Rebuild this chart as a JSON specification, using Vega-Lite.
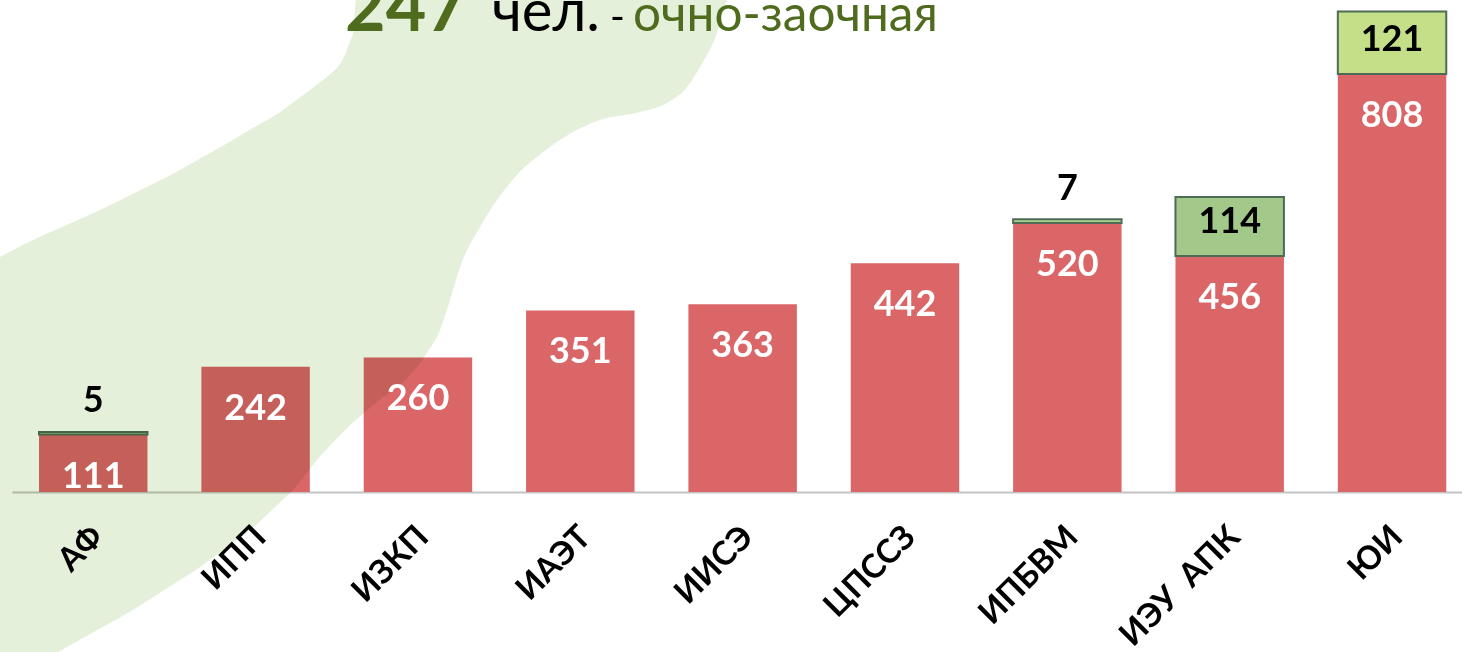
{
  "$schema": "https://vega.github.io/schema/vega-lite/v6.json",
  "autosize": {"type": "none"},
  "padding": {"left": 12, "top": 0, "right": 0, "bottom": 160},
  "width": 1450,
  "height": 492,
  "background": "white",
  "config": {"view": {"stroke": null}, "font": "Lato"},
  "data": {"values": [
    {"faculty": "АФ", "form": "очная", "count": 111},
    {"faculty": "АФ", "form": "очно-заочная", "count": 5},
    {"faculty": "ИПП", "form": "очная", "count": 242},
    {"faculty": "ИЗКП", "form": "очная", "count": 260},
    {"faculty": "ИАЭТ", "form": "очная", "count": 351},
    {"faculty": "ИИСЭ", "form": "очная", "count": 363},
    {"faculty": "ЦПССЗ", "form": "очная", "count": 442},
    {"faculty": "ИПБВМ", "form": "очная", "count": 520},
    {"faculty": "ИПБВМ", "form": "очно-заочная", "count": 7},
    {"faculty": "ИЭУ\u00a0\u00a0АПК", "form": "очная", "count": 456},
    {"faculty": "ИЭУ\u00a0\u00a0АПК", "form": "очно-заочная", "count": 114},
    {"faculty": "ЮИ", "form": "очная", "count": 808},
    {"faculty": "ЮИ", "form": "очно-заочная", "count": 121}
  ]},
  "resolve": {"scale": {"x": "independent"}},
  "layer": [
    {
      "transform": [
        {"stack": "count", "groupby": ["faculty"], "sort": [{"field": "form", "order": "ascending"}], "as": ["y0", "y1"]},
        {"filter": "datum.form === 'очная'"}
      ],
      "mark": {"type": "bar", "color": "#DA6668"},
      "encoding": {
        "x": {"field": "faculty", "type": "nominal",
          "scale": {"type": "band", "domain": ["АФ","ИПП","ИЗКП","ИАЭТ","ИИСЭ","ЦПССЗ","ИПБВМ","ИЭУ\u00a0\u00a0АПК","ЮИ"], "paddingInner": 0.332, "paddingOuter": 0.1317, "align": 0.632},
          "axis": {"title": null, "ticks": false, "labelAngle": -45, "labelAlign": "right", "labelBaseline": "top", "labelPadding": 28, "labelOffset": -6, "labelFont": "Lato", "labelFontSize": 33, "labelFontWeight": "bold", "labelColor": "#000000", "domainColor": "#C4C4C4", "domainWidth": 2, "grid": false}},
        "y": {"field": "y1", "type": "quantitative", "scale": {"domain": [0, 951], "nice": false, "zero": false}, "axis": null},
        "y2": {"field": "y0"}
      }
    },
    {
      "transform": [
        {"stack": "count", "groupby": ["faculty"], "sort": [{"field": "form", "order": "ascending"}], "as": ["y0", "y1"]},
        {"filter": "datum.form === 'очно-заочная'"}
      ],
      "mark": {"type": "bar", "stroke": "#4D6B55", "strokeWidth": 2},
      "encoding": {
        "x": {"field": "faculty", "type": "nominal",
          "scale": {"type": "band", "domain": ["АФ","ИПП","ИЗКП","ИАЭТ","ИИСЭ","ЦПССЗ","ИПБВМ","ИЭУ\u00a0\u00a0АПК","ЮИ"], "paddingInner": 0.332, "paddingOuter": 0.1317, "align": 0.632},
          "axis": null},
        "y": {"field": "y1", "type": "quantitative", "scale": {"domain": [0, 951], "nice": false, "zero": false}, "axis": null},
        "y2": {"field": "y0"},
        "fill": {"field": "faculty", "type": "nominal", "legend": null,
          "scale": {"domain": ["АФ","ИПБВМ","ИЭУ\u00a0\u00a0АПК","ЮИ"], "range": ["#A9D08E","#A9D08E","#A2C98A","#C4DF88"]}}
      }
    },
    {
      "data": {"values": [
        {"bx": -0.83, "top": 454.3, "bottom": -324.8},
        {"bx": 1.45, "top": 487.1, "bottom": -315.9},
        {"bx": 3.17, "top": 508.8, "bottom": -309.3},
        {"bx": 3.79, "top": 516.5, "bottom": -299.6},
        {"bx": 6.07, "top": 545.1, "bottom": -263.9},
        {"bx": 8.34, "top": 576.7, "bottom": -228.1},
        {"bx": 10.69, "top": 608.9, "bottom": -186.0},
        {"bx": 12.97, "top": 644.7, "bottom": -145.0},
        {"bx": 15.24, "top": 680.5, "bottom": -97.8},
        {"bx": 16.41, "top": 700.2, "bottom": -73.5},
        {"bx": 18.69, "top": 738.4, "bottom": -14.5},
        {"bx": 19.17, "top": 748.6, "bottom": -1.9},
        {"bx": 21.45, "top": 796.4, "bottom": 75.4},
        {"bx": 21.72, "top": 802.2, "bottom": 83.3},
        {"bx": 23.10, "top": 854.4, "bottom": 123.5},
        {"bx": 23.31, "top": 870.9, "bottom": 129.5},
        {"bx": 23.52, "top": 887.3, "bottom": 134.4},
        {"bx": 23.79, "top": 970.4, "bottom": 140.9},
        {"bx": 25.59, "top": 970.4, "bottom": 183.6},
        {"bx": 26.76, "top": 970.4, "bottom": 206.8},
        {"bx": 28.62, "top": 970.4, "bottom": 268.7},
        {"bx": 29.52, "top": 970.4, "bottom": 313.2},
        {"bx": 30.21, "top": 970.4, "bottom": 371.2},
        {"bx": 30.90, "top": 970.4, "bottom": 435.0},
        {"bx": 32.28, "top": 970.4, "bottom": 512.3},
        {"bx": 34.34, "top": 970.4, "bottom": 597.3},
        {"bx": 37.10, "top": 970.4, "bottom": 666.9},
        {"bx": 40.55, "top": 970.4, "bottom": 719.1},
        {"bx": 43.31, "top": 970.4, "bottom": 734.6},
        {"bx": 45.17, "top": 970.4, "bottom": 752.0},
        {"bx": 46.55, "top": 970.4, "bottom": 782.9},
        {"bx": 47.45, "top": 970.4, "bottom": 821.6},
        {"bx": 48.62, "top": 970.4, "bottom": 887.3},
        {"bx": 49.31, "top": 970.4, "bottom": 951.1},
        {"bx": 49.59, "top": 970.4, "bottom": 970.4}
      ]},
      "mark": {"type": "area", "color": "#E5F0DA", "blend": "multiply", "interpolate": "monotone"},
      "encoding": {
        "x": {"field": "bx", "type": "quantitative", "scale": {"domain": [0, 100], "nice": false, "zero": false}, "axis": null},
        "y": {"field": "top", "type": "quantitative", "scale": {"domain": [0, 951], "nice": false, "zero": false}, "axis": null},
        "y2": {"field": "bottom"}
      }
    },
    {
      "transform": [
        {"stack": "count", "groupby": ["faculty"], "sort": [{"field": "form", "order": "ascending"}], "as": ["y0", "y1"]},
        {"filter": "datum.form === 'очная'"}
      ],
      "mark": {"type": "text", "color": "#FFFFFF", "font": "Lato", "fontSize": 36, "fontWeight": "bold", "baseline": "alphabetic", "align": "center", "dy": 53},
      "encoding": {
        "x": {"field": "faculty", "type": "nominal",
          "scale": {"type": "band", "domain": ["АФ","ИПП","ИЗКП","ИАЭТ","ИИСЭ","ЦПССЗ","ИПБВМ","ИЭУ\u00a0\u00a0АПК","ЮИ"], "paddingInner": 0.332, "paddingOuter": 0.1317, "align": 0.632},
          "axis": null},
        "y": {"field": "y1", "type": "quantitative", "scale": {"domain": [0, 951], "nice": false, "zero": false}, "axis": null},
        "text": {"field": "count", "type": "quantitative"}
      }
    },
    {
      "transform": [
        {"stack": "count", "groupby": ["faculty"], "sort": [{"field": "form", "order": "ascending"}], "as": ["y0", "y1"]},
        {"filter": "datum.form === 'очно-заочная'"}
      ],
      "mark": {"type": "text", "color": "#000000", "font": "Lato", "fontSize": 36, "fontWeight": "bold", "baseline": "alphabetic", "align": "center", "dy": -23},
      "encoding": {
        "x": {"field": "faculty", "type": "nominal",
          "scale": {"type": "band", "domain": ["АФ","ИПП","ИЗКП","ИАЭТ","ИИСЭ","ЦПССЗ","ИПБВМ","ИЭУ\u00a0\u00a0АПК","ЮИ"], "paddingInner": 0.332, "paddingOuter": 0.1317, "align": 0.632},
          "axis": null},
        "y": {"field": "y0", "type": "quantitative", "scale": {"domain": [0, 951], "nice": false, "zero": false}, "axis": null},
        "text": {"field": "count", "type": "quantitative"}
      }
    },
    {
      "data": {"values": [{}]},
      "mark": {"type": "text", "text": "247", "color": "#4F6B1E", "font": "Lato", "fontSize": 70, "fontWeight": "bold", "align": "left", "baseline": "alphabetic"},
      "encoding": {
        "x": {"datum": 22.97, "type": "quantitative", "scale": {"domain": [0, 100], "nice": false, "zero": false}, "axis": null},
        "y": {"datum": 891.2, "type": "quantitative", "scale": {"domain": [0, 951], "nice": false, "zero": false}, "axis": null}
      }
    },
    {
      "data": {"values": [{}]},
      "mark": {"type": "text", "text": "чел.", "color": "#000000", "font": "Lato", "fontSize": 58, "fontWeight": "normal", "align": "left", "baseline": "alphabetic"},
      "encoding": {
        "x": {"datum": 33.1, "type": "quantitative", "scale": {"domain": [0, 100], "nice": false, "zero": false}, "axis": null},
        "y": {"datum": 891.2, "type": "quantitative", "scale": {"domain": [0, 951], "nice": false, "zero": false}, "axis": null}
      }
    },
    {
      "data": {"values": [{}]},
      "mark": {"type": "text", "text": "-", "color": "#000000", "font": "Lato", "fontSize": 40, "fontWeight": "normal", "align": "left", "baseline": "alphabetic"},
      "encoding": {
        "x": {"datum": 41.24, "type": "quantitative", "scale": {"domain": [0, 100], "nice": false, "zero": false}, "axis": null},
        "y": {"datum": 891.2, "type": "quantitative", "scale": {"domain": [0, 951], "nice": false, "zero": false}, "axis": null}
      }
    },
    {
      "data": {"values": [{}]},
      "mark": {"type": "text", "text": "очно-заочная", "color": "#4F6B1E", "font": "Lato", "fontSize": 49.5, "fontWeight": "normal", "align": "left", "baseline": "alphabetic"},
      "encoding": {
        "x": {"datum": 42.83, "type": "quantitative", "scale": {"domain": [0, 100], "nice": false, "zero": false}, "axis": null},
        "y": {"datum": 891.2, "type": "quantitative", "scale": {"domain": [0, 951], "nice": false, "zero": false}, "axis": null}
      }
    }
  ]
}
